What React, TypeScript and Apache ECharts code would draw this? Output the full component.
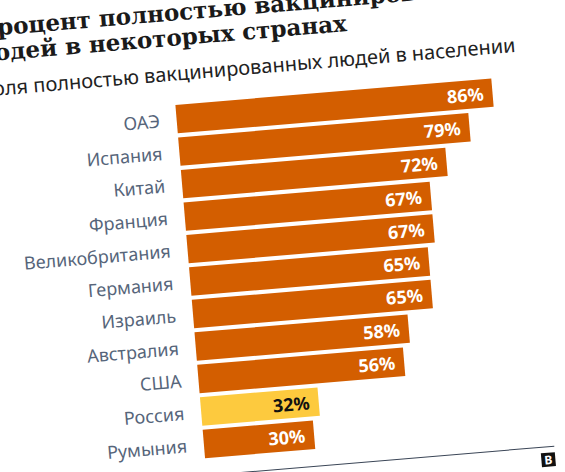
import React, { useEffect, useRef } from "react";
import * as echarts from "echarts";

const categories = ["ОАЭ", "Испания", "Китай", "Франция", "Великобритания", "Германия", "Израиль", "Австралия", "США", "Россия", "Румыния"];
const values = [86, 79, 72, 67, 67, 65, 65, 58, 56, 32, 30];
const highlight = "Россия";
const titleLines = ["Процент полностью вакцинированных", "людей в некоторых странах"];
const subtitle = "Доля полностью вакцинированных людей в населении";

const ORANGE = "#d35e00";
const YELLOW = "#fdca3e";

export default function App() {
  const ref = useRef<HTMLDivElement>(null);
  useEffect(() => {
    if (!ref.current) return;
    const chart = echarts.init(ref.current, null, { renderer: "svg" });
    chart.setOption({
      animation: false,
      backgroundColor: "#ffffff",
      grid: { left: 226, top: 137.2, width: 368.6, height: 358.6, containLabel: false },
      xAxis: { type: "value", min: 0, max: 100, show: false },
      yAxis: {
        type: "category",
        data: categories,
        inverse: true,
        axisLine: { show: false },
        axisTick: { show: false },
        axisLabel: { margin: 17, color: "#56657a", fontSize: 18, fontFamily: "Noto Sans" },
      },
      series: [
        {
          type: "bar",
          barWidth: 28.5,
          data: values.map((v, i) => ({
            value: v,
            itemStyle: { color: categories[i] === highlight ? YELLOW : ORANGE },
            label: { color: categories[i] === highlight ? "#111111" : "#ffffff" },
          })),
          label: {
            show: true,
            position: "insideRight",
            distance: 9,
            formatter: "{c}%",
            fontSize: 18,
            fontWeight: "bold",
            fontFamily: "Noto Sans",
          },
        },
      ],
      graphic: [
        { type: "text", left: 33, top: 35, style: { text: titleLines[0], font: "bold 23px 'DejaVu Serif'", fill: "#1a1a1a" } },
        { type: "text", left: 26, top: 60, style: { text: titleLines[1], font: "bold 23px 'DejaVu Serif'", fill: "#1a1a1a" } },
        { type: "text", left: 31, top: 97.5, style: { text: subtitle, font: "20px 'Noto Sans'", fill: "#222222" } },
        { type: "line", shape: { x1: 33, y1: 511, x2: 575, y2: 511 }, style: { stroke: "#3a4556", lineWidth: 1 } },
        { type: "rect", shape: { x: 561, y: 517, width: 14, height: 14 }, style: { fill: "#111111" } },
        { type: "text", x: 568, y: 524, style: { text: "B", font: "bold 12px 'Noto Sans'", fill: "#ffffff", align: "center", verticalAlign: "middle" } },
      ],
    });
    return () => chart.dispose();
  }, []);

  return (
    <div style={{ position: "fixed", left: 0, top: 0, width: 565, height: 472, overflow: "hidden", background: "#fff" }}>
      <div
        ref={ref}
        style={{
          position: "absolute",
          left: -60,
          top: -20,
          width: 660,
          height: 560,
          transformOrigin: "60px 20px",
          transform: "rotate(-4.8deg)",
        }}
      />
    </div>
  );
}
